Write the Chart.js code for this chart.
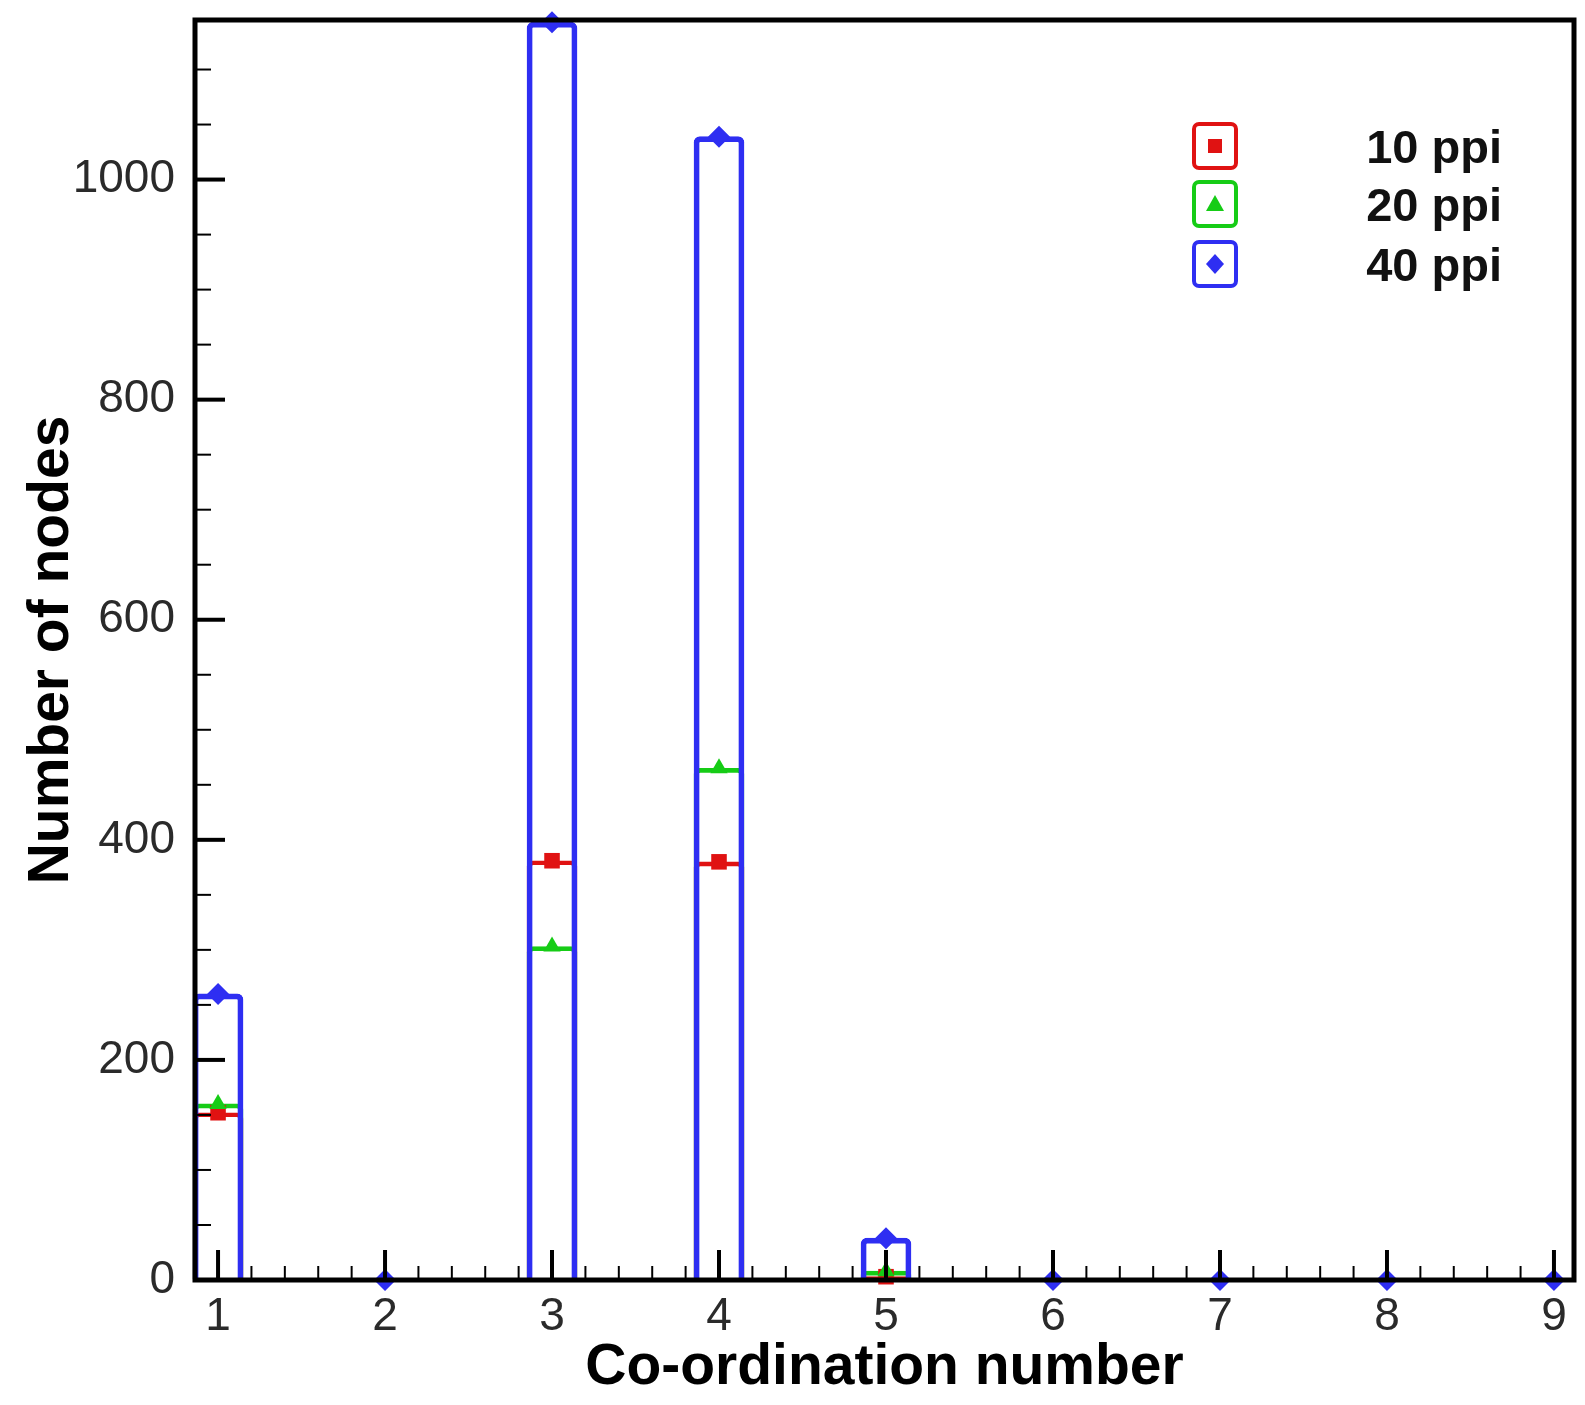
<!DOCTYPE html>
<html><head><meta charset="utf-8">
<script src="https://cdn.jsdelivr.net/npm/chart.js@4/dist/chart.umd.min.js"></script>
<style>
html,body{margin:0;padding:0;background:#fff;}
#wrap{position:relative;width:1585px;height:1405px;}
.lrow{position:absolute;left:1192px;width:310px;height:48px;}
.lbox{position:absolute;left:0;top:0;width:38px;height:40px;border:4px solid;border-radius:7px;background:#fff;}
.lbox svg{position:absolute;left:0;top:0;}
.llab{position:absolute;right:0;top:50%;transform:translateY(-50%);font:bold 47px "Liberation Sans",Arial,sans-serif;color:#111;white-space:nowrap;line-height:1;}
</style>
</head><body>
<div id="wrap"><canvas id="c"></canvas>
<div id="legend"></div>
</div>
<script>
const categories = [1, 2, 3, 4, 5, 6, 7, 8, 9];
const seriesNames = ['10 ppi', '20 ppi', '40 ppi'];
const ppi10 = [152, 0, 381, 380, 3, 0, 0, 0, 0];
const ppi20 = [160, 0, 303, 465, 8, 0, 0, 0, 0];
const ppi40 = [260, 0, 1143, 1039, 38, 0, 0, 0, 0];
const xTickValues = [1, 2, 3, 4, 5, 6, 7, 8, 9];
const yTickValues = [0, 200, 400, 600, 800, 1000];
const xAxisTitle = 'Co-ordination number';
const yAxisTitle = 'Number of nodes';

const RED = '#e01212', GREEN = '#16cc16', BLUE = '#2e2ef2';
const FAM = '"Liberation Sans", Arial, sans-serif';
function pts(arr) { return categories.map((c, i) => ({x: c, y: arr[i]})); }

// legend (HTML)
const legendSpec = [
  {name: seriesNames[0], color: RED, top: 122, shape: '<rect x="12" y="13" width="14" height="14" fill="' + RED + '"/>'},
  {name: seriesNames[1], color: GREEN, top: 180, shape: '<polygon points="19,11 28,27 10,27" fill="' + GREEN + '"/>'},
  {name: seriesNames[2], color: BLUE, top: 240, shape: '<polygon points="19,10 28,20 19,30 10,20" fill="' + BLUE + '"/>'}
];
const lg = document.getElementById('legend');
legendSpec.forEach(s => {
  const row = document.createElement('div');
  row.className = 'lrow'; row.style.top = s.top + 'px';
  row.innerHTML = '<div class="lbox" style="border-color:' + s.color + '"><svg width="38" height="40">' + s.shape + '</svg></div><div class="llab">' + s.name + '</div>';
  lg.appendChild(row);
});

const tickPlugin = {
  id: 'frameTicks',
  afterDatasetsDraw(chart) {
    const {ctx, chartArea: a, scales: {x, y}} = chart;
    ctx.save();
    ctx.strokeStyle = '#000';
    ctx.lineCap = 'butt';
    for (let k = Math.ceil(x.min * 5); k <= Math.floor(x.max * 5); k++) {
      const v = k / 5, px = x.getPixelForValue(v), major = (k % 5 === 0);
      ctx.lineWidth = major ? 4 : 2;
      ctx.beginPath(); ctx.moveTo(px, a.bottom); ctx.lineTo(px, a.bottom - (major ? 30 : 14)); ctx.stroke();
    }
    for (let k = 1; k * 50 <= y.max; k++) {
      const v = k * 50, py = y.getPixelForValue(v), major = (v % 200 === 0);
      ctx.lineWidth = major ? 4 : 2;
      ctx.beginPath(); ctx.moveTo(a.left, py); ctx.lineTo(a.left + (major ? 30 : 16), py); ctx.stroke();
    }
    ctx.lineWidth = 5;
    ctx.strokeRect(a.left, a.top, a.right - a.left, a.bottom - a.top);
    ctx.restore();
  }
};

const canvas = document.getElementById('c');
canvas.width = 1585; canvas.height = 1405;

const barCommon = {type: 'bar', backgroundColor: 'rgba(0,0,0,0)', borderSkipped: 'bottom', borderRadius: 6, barThickness: 50, grouped: false, clip: false};
const ptCommon = {type: 'line', showLine: false, pointBorderWidth: 0, clip: false};
// red/green markers that sit at zero are hidden under the blue ones in the original
const hideAtZero = r => (c => (c.raw && c.raw.y === 0 ? 0 : r));

new Chart(canvas, {
  type: 'bar',
  data: {
    datasets: [
      Object.assign({}, ptCommon, {label: seriesNames[2], data: pts(ppi40), pointStyle: 'rectRot', pointRadius: 11, pointBackgroundColor: BLUE, order: 0}),
      Object.assign({}, ptCommon, {label: seriesNames[1], data: pts(ppi20), pointStyle: 'triangle', pointRadius: hideAtZero(10), pointBackgroundColor: GREEN, order: 1}),
      Object.assign({}, ptCommon, {label: seriesNames[0], data: pts(ppi10), pointStyle: 'rect', pointRadius: hideAtZero(11), pointBackgroundColor: RED, order: 2}),
      Object.assign({}, barCommon, {label: seriesNames[2], data: pts(ppi40), borderColor: BLUE, borderWidth: 5, order: 3}),
      Object.assign({}, barCommon, {label: seriesNames[1], data: pts(ppi20), borderColor: GREEN, borderWidth: 4, order: 4}),
      Object.assign({}, barCommon, {label: seriesNames[0], data: pts(ppi10), borderColor: RED, borderWidth: 4, order: 5})
    ]
  },
  options: {
    responsive: false,
    animation: false,
    events: [],
    layout: {padding: {top: 20, right: 4, left: 0, bottom: 0}},
    plugins: {legend: {display: false}, tooltip: {enabled: false}},
    scales: {
      x: {
        type: 'linear', min: 0.862, max: 9.12, offset: false,
        afterBuildTicks: s => { s.ticks = xTickValues.map(v => ({value: v})); },
        afterFit: s => { s.height = 125; s.paddingLeft = 0; s.paddingRight = 0; },
        grid: {display: true, drawOnChartArea: false, drawTicks: false},
        border: {display: false},
        ticks: {font: {family: FAM, size: 46}, color: '#2a2a2a', padding: 10, maxRotation: 0, autoSkip: false, callback: v => String(v)},
        title: {display: true, text: xAxisTitle, font: {family: FAM, size: 57, weight: 'bold', lineHeight: 1.2}, color: '#000', padding: {top: 0, bottom: 3}}
      },
      y: {
        type: 'linear', min: 0, max: 1145,
        afterBuildTicks: s => { s.ticks = yTickValues.map(v => ({value: v})); },
        afterFit: s => { s.width = 195; s.paddingTop = 0; s.paddingBottom = 0; },
        grid: {display: true, drawOnChartArea: false, drawTicks: false},
        border: {display: false},
        ticks: {font: {family: FAM, size: 46}, color: '#2a2a2a', padding: 20, callback: v => String(v)},
        title: {display: true, text: yAxisTitle, font: {family: FAM, size: 57, weight: 'bold', lineHeight: 1.2}, color: '#000', padding: {top: 18, bottom: 0}}
      }
    }
  },
  plugins: [tickPlugin]
});
</script>
</body></html>
